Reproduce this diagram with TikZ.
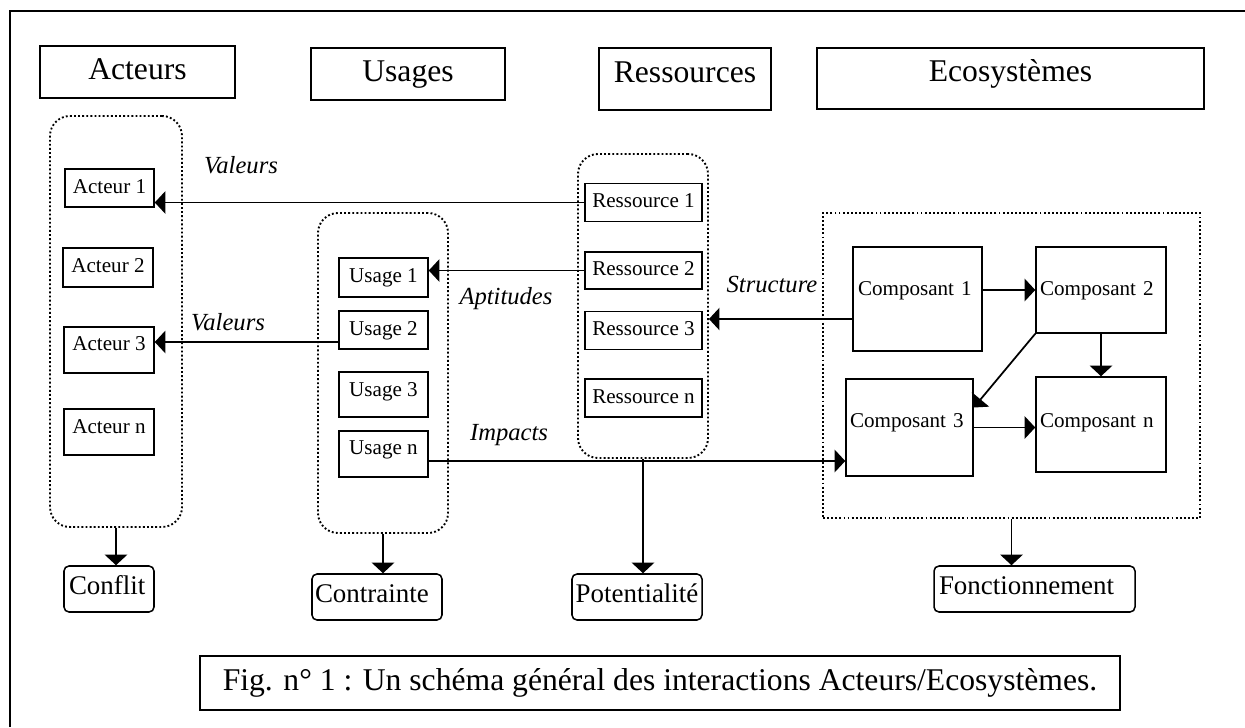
\documentclass[tikz,border=0pt]{standalone}
\usepackage{fontspec}
\setmainfont{Liberation Serif}
\usetikzlibrary{
	positioning,
	arrows.meta,
	calc
}

\tikzset{
	boxsize/.style 2 args={minimum width=#1*0.03cm, minimum height=#2*0.03cm},
	lefttext/.style={align=left, text width=#1*0.03cm},
	titlebox/.style={draw, line width=1.4pt, inner sep=0pt, text height=18.9pt, text depth=5.4pt, font=\fontsize{27}{30}\selectfont},
	itembox/.style={draw, line width=1.3pt, inner sep=0pt, text height=12.6pt, text depth=4pt, font=\fontsize{18}{20}\selectfont},
	groupbox/.style={draw, line width=1.6pt, dash pattern=on 1.6pt off 1.9pt, rounded corners=0.6cm, inner sep=0pt},
	ecobox/.style={groupbox, sharp corners},
	resultbox/.style={draw, line width=1.3pt, rounded corners=0.15cm, inner sep=0pt, text height=16.1pt, text depth=6pt, font=\fontsize{23}{26}\selectfont},
	flowlabel/.style={inner sep=0pt, font=\fontsize{21}{23}\selectfont\itshape},
	arr/.style={line width=1.5pt, -{Triangle[length=9pt,width=19pt]}}
}

\begin{document}
\begin{tikzpicture}[x=0.03cm, y=-0.03cm]

	\useasboundingbox (0,0) rectangle (1245,727);
	\draw[line width=1.5pt] (10,727) -- (10,11) -- (1245,11);

	\node[titlebox, boxsize={195}{52}] (hActeurs) at (137.5,72) {Acteurs};
	\node[titlebox, boxsize={194}{52}] (hUsages) at (408,74) {Usages};
	\node[titlebox, boxsize={172}{62}, text depth=13.5pt] (hRessources) at (685,79) {Ressources};
	\node[titlebox, boxsize={387}{61}, text depth=13.5pt] (hEco) at (1010.5,78.5) {Ecosystèmes};

	\node[groupbox, boxsize={132}{411}] (gActeurs) at (116,321.5) {};
	\node[groupbox, boxsize={130}{320}] (gUsages) at (383,373) {};
	\node[groupbox, boxsize={130}{304}] (gRessources) at (643,306) {};
	\node[ecobox, boxsize={377}{305}] (gEco) at (1011.5,365.5) {};

	\node[itembox, boxsize={89}{38}] (a1) at (109.5,188) {Acteur 1};
	\node[itembox, boxsize={90}{39}] (a2) at (108,267.5) {Acteur 2};
	\node[itembox, boxsize={90}{46}, text depth=12.6pt] (a3) at (109,350) {Acteur 3};
	\node[itembox, boxsize={90}{46}, text depth=10.8pt] (an) at (109,432) {Acteur n};

	\node[itembox, boxsize={89}{39}] (u1) at (383.5,277.5) {Usage 1};
	\node[itembox, boxsize={89}{38}] (u2) at (383.5,330) {Usage 2};
	\node[itembox, boxsize={89}{45}, text depth=9.9pt] (u3) at (383.5,394.5) {Usage 3};
	\node[itembox, boxsize={89}{46}, text depth=12.6pt] (un) at (383.5,454) {Usage n};

	\node[itembox, boxsize={117}{38}] (r1) at (643.5,202.5) {Ressource 1};
	\node[itembox, boxsize={117}{37}] (r2) at (643.5,270.5) {Ressource 2};
	\node[itembox, boxsize={117}{38}] (r3) at (643.5,330.5) {Ressource 3};
	\node[itembox, boxsize={117}{38}] (rn) at (643.5,398) {Ressource n};

	\node[itembox, boxsize={129}{104}, lefttext=119, text depth=18pt] (c1) at (917.5,299) {Composant 1};
	\node[itembox, boxsize={130}{86}, lefttext=122] (c2) at (1101,290) {Composant 2};
	\node[itembox, boxsize={127}{97}, lefttext=119, text depth=12.6pt] (c3) at (909.5,427.5) {Composant 3};
	\node[itembox, boxsize={130}{95}, lefttext=122, text depth=8.3pt] (cn) at (1101,424.5) {Composant n};

	\node[resultbox, boxsize={90}{46}, lefttext=80] (conflit) at (109,589) {Conflit};
	\node[resultbox, boxsize={130}{46}, lefttext=124] (contrainte) at (377,597) {Contrainte};
	\node[resultbox, boxsize={130}{46}] (potentialite) at (637,597) {Potentialité};
	\node[resultbox, boxsize={201}{46}, lefttext=191] (fonct) at (1034.5,589) {Fonctionnement};

	\node[flowlabel] (lValeursA) at (241,165) {Valeurs};
	\node[flowlabel] (lAptitudes) at (506,299) {Aptitudes};
	\node[flowlabel] (lValeursB) at (228,322) {Valeurs};
	\node[flowlabel] (lImpacts) at (509,435) {Impacts};
	\node[flowlabel] (lStructure) at (772,284) {Structure};

	\coordinate (pValeurs) at ($(u2.west)+(0,12)$);
	\coordinate (pStructure) at ($(c1.west)+(0,20)$);
	\coordinate (pImpacts) at ($(un.east)+(0,7)$);
	\coordinate (pC3) at ($(c3.east)+(0,-20)$);

	\draw[arr] (r1.west) -- (r1.west -| a1.east);
	\draw[arr] (r2.west) -- (r2.west -| u1.east);
	\draw[arr] (pValeurs) -- (pValeurs -| a3.east);
	\draw[arr] (pStructure) -- (pStructure -| gRessources.east);
	\draw[arr] (pImpacts) -- (pImpacts -| c3.west);

	\draw[arr] (c2.west -| c1.east) -- (c2.west);
	\draw[arr] (c2.south) -- (cn.north);
	\draw[arr] (c2.south west) -- (pC3);
	\draw[arr] (c3.east) -- (c3.east -| cn.west);

	\draw[arr] (gActeurs.south) -- (gActeurs.south |- conflit.north);
	\draw[arr] (gUsages.south) -- (gUsages.south |- contrainte.north);
	\draw[arr] (gRessources.south) -- (gRessources.south |- potentialite.north);
	\draw[arr] (gEco.south) -- (gEco.south |- fonct.north);

	\node[
	draw,
	line width=1.4pt,
	inner sep=0pt,
	boxsize={920}{54},
	text height=18.9pt,
	text depth=6.75pt,
	font=\fontsize{27}{30}\selectfont
	]
	(caption) at (660,683)
	{Fig. n° 1 : Un schéma général des interactions Acteurs/Ecosystèmes.};

\end{tikzpicture}
\end{document}
